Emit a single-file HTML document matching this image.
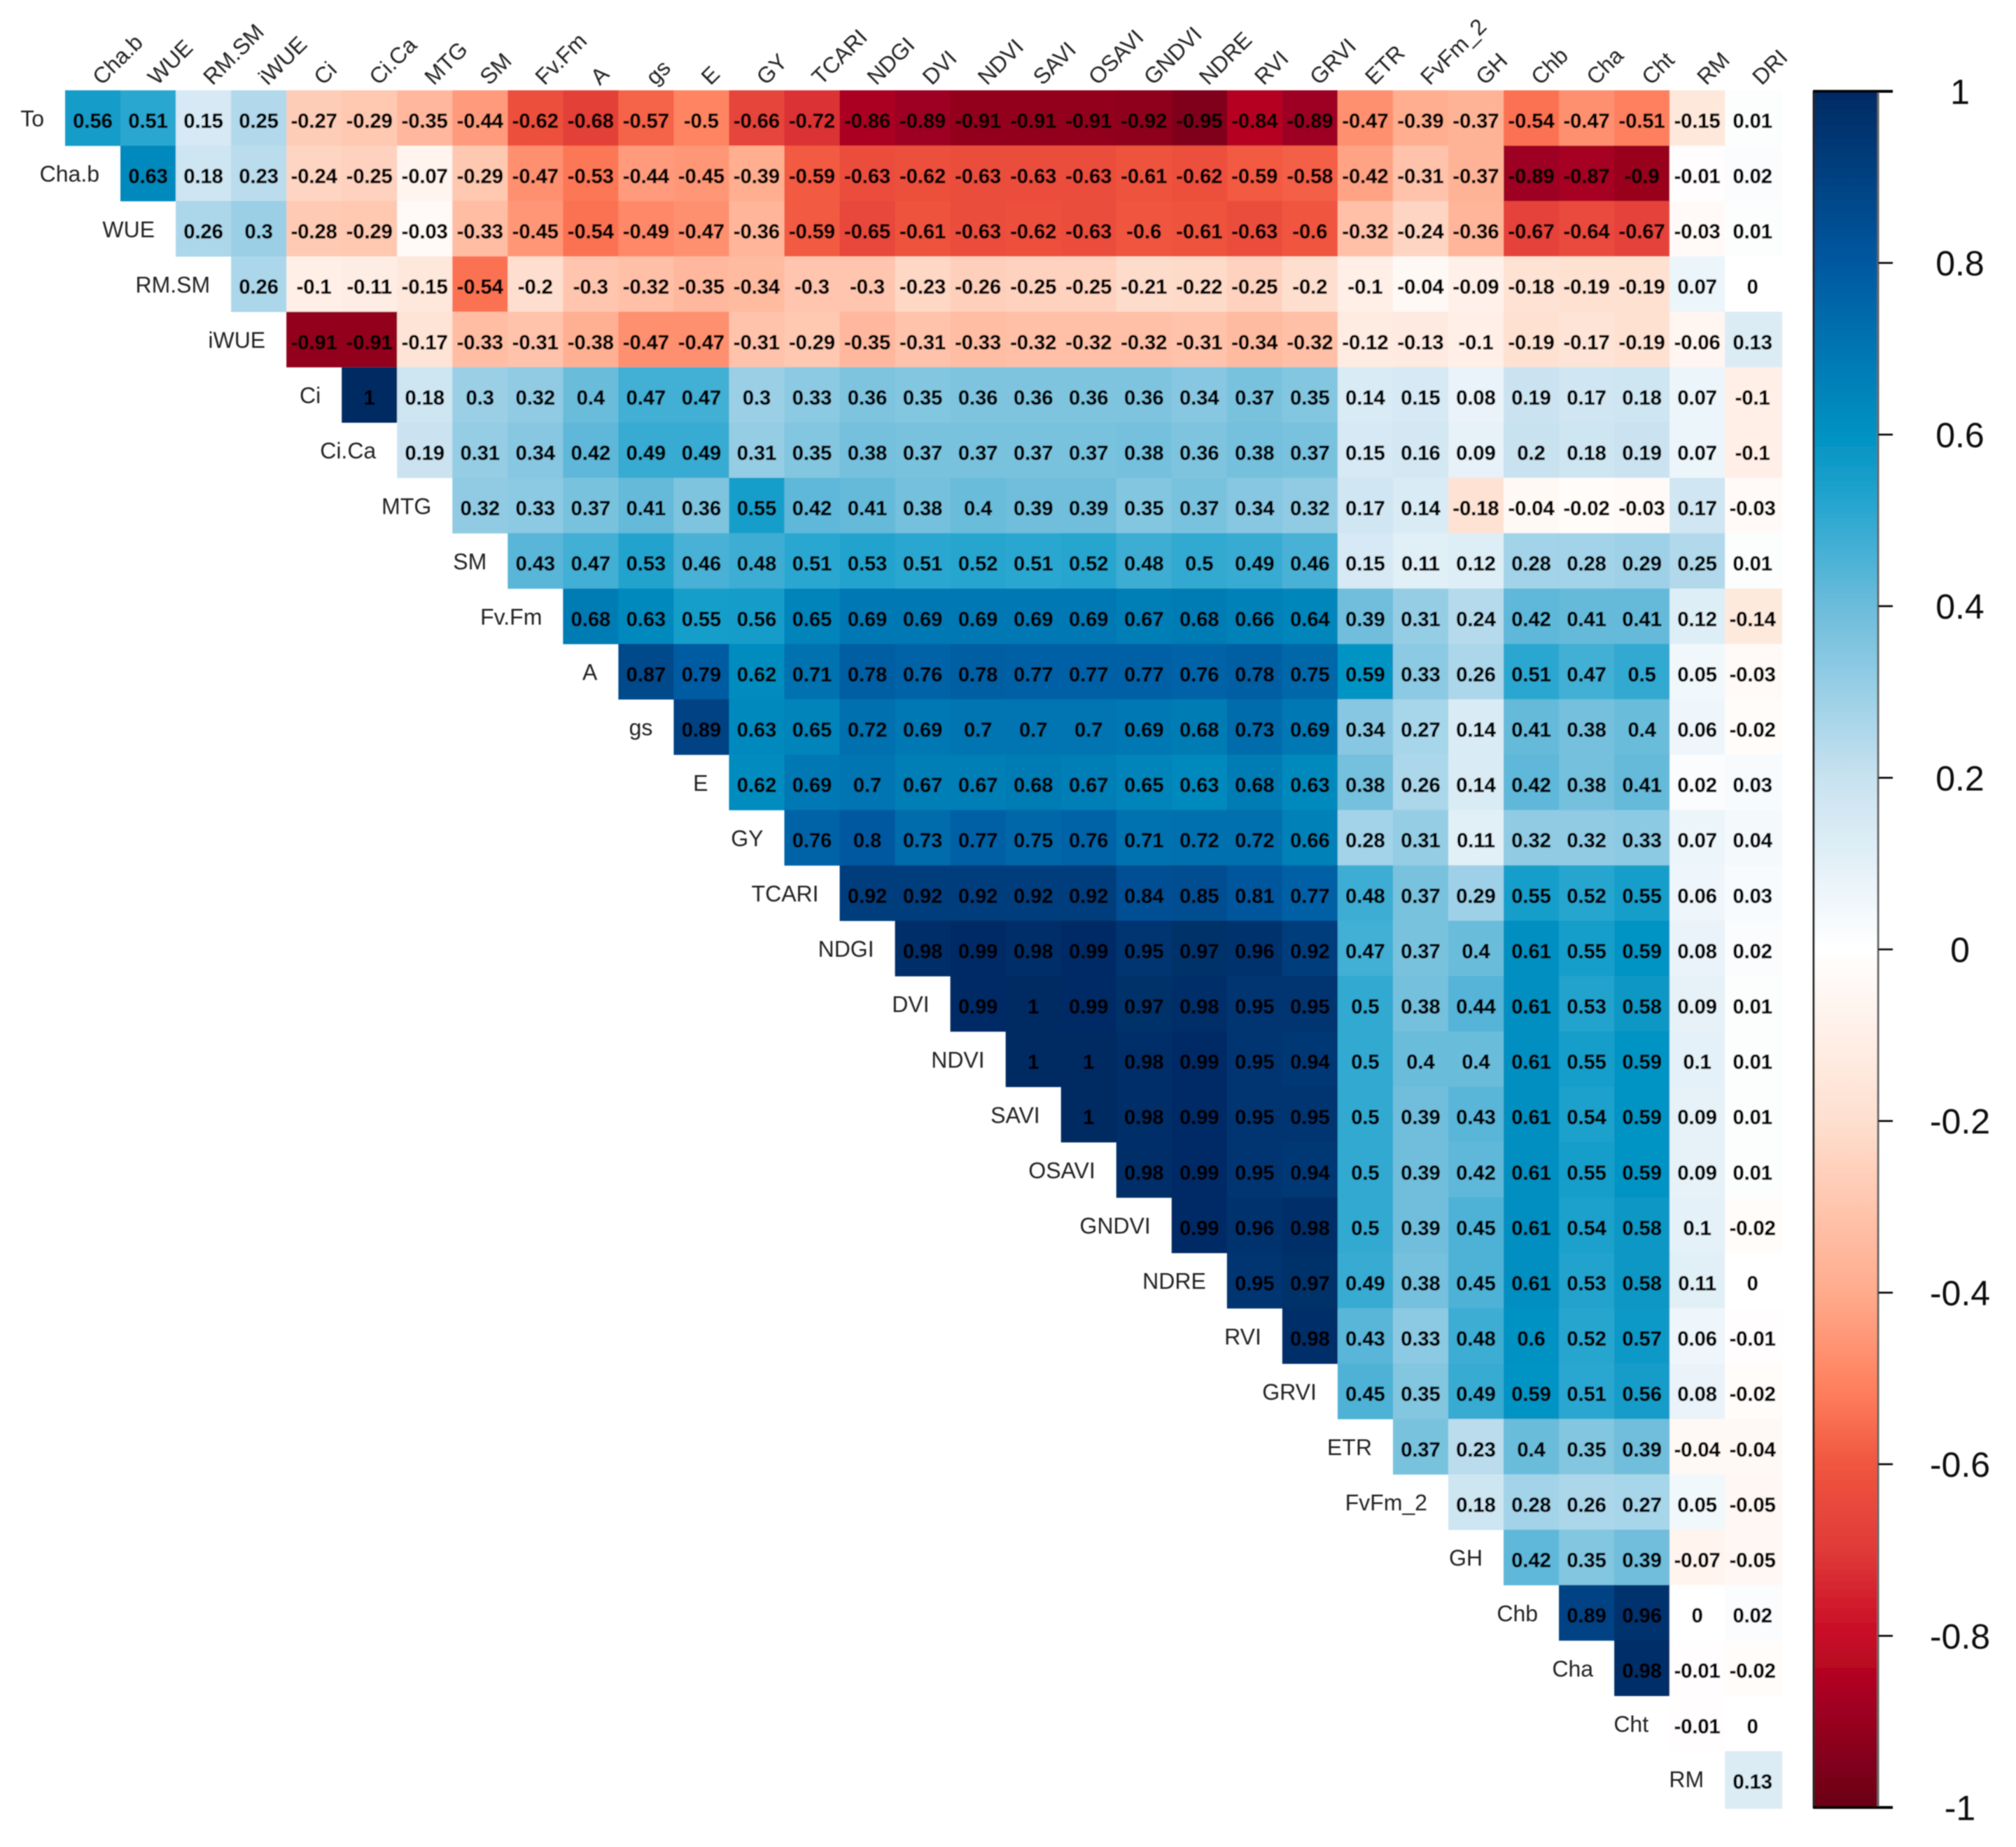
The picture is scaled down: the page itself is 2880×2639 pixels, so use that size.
<!DOCTYPE html>
<html lang="en">
<head>
<meta charset="utf-8">
<title>Correlation matrix heatmap</title>
<style>
  html, body { margin: 0; padding: 0; background: #ffffff; }
  body { width: 2880px; height: 2639px; overflow: hidden; }
  svg { display: block; }
  text { font-family: "Liberation Sans", Arial, sans-serif; fill: #000; }
  .val { font-size: 29px; font-weight: 700; text-anchor: middle; fill: #000; stroke: #000; stroke-width: 0.5px; }
  .rowl { font-size: 32px; text-anchor: end; fill: #222; }
  .coll { font-size: 32px; text-anchor: start; fill: #222; }
  .legl { font-size: 50px; text-anchor: middle; fill: #111; }
</style>
</head>
<body>
<svg id="chart" xmlns="http://www.w3.org/2000/svg" width="2880" height="2639" viewBox="0 0 2880 2639">
  <defs>
    <filter id="soft" x="0" y="0" width="100%" height="100%" filterUnits="userSpaceOnUse" primitiveUnits="userSpaceOnUse">
      <feGaussianBlur stdDeviation="0.8"/>
    </filter>
    <linearGradient id="legend-gradient" x1="0" y1="0" x2="0" y2="1"></linearGradient>
  </defs>
  <rect x="0" y="0" width="2880" height="2639" fill="#ffffff"/>
  <g id="plot" filter="url(#soft)">
    <g id="cells"></g>
    <g id="values"></g>
    <g id="row-labels"></g>
    <g id="col-labels"></g>
    <g id="legend"></g>
  </g>
</svg>
<script>
const rowNames = ["To","Cha.b","WUE","RM.SM","iWUE","Ci","Ci.Ca","MTG","SM","Fv.Fm","A","gs","E","GY","TCARI","NDGI","DVI","NDVI","SAVI","OSAVI","GNDVI","NDRE","RVI","GRVI","ETR","FvFm_2","GH","Chb","Cha","Cht","RM"];
const colNames = ["Cha.b","WUE","RM.SM","iWUE","Ci","Ci.Ca","MTG","SM","Fv.Fm","A","gs","E","GY","TCARI","NDGI","DVI","NDVI","SAVI","OSAVI","GNDVI","NDRE","RVI","GRVI","ETR","FvFm_2","GH","Chb","Cha","Cht","RM","DRI"];
const legendTicks = [1,0.8,0.6,0.4,0.2,0,-0.2,-0.4,-0.6,-0.8,-1];

const rowTo = [0.56,0.51,0.15,0.25,-0.27,-0.29,-0.35,-0.44,-0.62,-0.68,-0.57,-0.5,-0.66,-0.72,-0.86,-0.89,-0.91,-0.91,-0.91,-0.92,-0.95,-0.84,-0.89,-0.47,-0.39,-0.37,-0.54,-0.47,-0.51,-0.15,0.01];
const rowChab = [0.63,0.18,0.23,-0.24,-0.25,-0.07,-0.29,-0.47,-0.53,-0.44,-0.45,-0.39,-0.59,-0.63,-0.62,-0.63,-0.63,-0.63,-0.61,-0.62,-0.59,-0.58,-0.42,-0.31,-0.37,-0.89,-0.87,-0.9,-0.01,0.02];
const rowWUE = [0.26,0.3,-0.28,-0.29,-0.03,-0.33,-0.45,-0.54,-0.49,-0.47,-0.36,-0.59,-0.65,-0.61,-0.63,-0.62,-0.63,-0.6,-0.61,-0.63,-0.6,-0.32,-0.24,-0.36,-0.67,-0.64,-0.67,-0.03,0.01];
const rowRMSM = [0.26,-0.1,-0.11,-0.15,-0.54,-0.2,-0.3,-0.32,-0.35,-0.34,-0.3,-0.3,-0.23,-0.26,-0.25,-0.25,-0.21,-0.22,-0.25,-0.2,-0.1,-0.04,-0.09,-0.18,-0.19,-0.19,0.07,0];
const rowiWUE = [-0.91,-0.91,-0.17,-0.33,-0.31,-0.38,-0.47,-0.47,-0.31,-0.29,-0.35,-0.31,-0.33,-0.32,-0.32,-0.32,-0.31,-0.34,-0.32,-0.12,-0.13,-0.1,-0.19,-0.17,-0.19,-0.06,0.13];
const rowCi = [1,0.18,0.3,0.32,0.4,0.47,0.47,0.3,0.33,0.36,0.35,0.36,0.36,0.36,0.36,0.34,0.37,0.35,0.14,0.15,0.08,0.19,0.17,0.18,0.07,-0.1];
const rowCiCa = [0.19,0.31,0.34,0.42,0.49,0.49,0.31,0.35,0.38,0.37,0.37,0.37,0.37,0.38,0.36,0.38,0.37,0.15,0.16,0.09,0.2,0.18,0.19,0.07,-0.1];
const rowMTG = [0.32,0.33,0.37,0.41,0.36,0.55,0.42,0.41,0.38,0.4,0.39,0.39,0.35,0.37,0.34,0.32,0.17,0.14,-0.18,-0.04,-0.02,-0.03,0.17,-0.03];
const rowSM = [0.43,0.47,0.53,0.46,0.48,0.51,0.53,0.51,0.52,0.51,0.52,0.48,0.5,0.49,0.46,0.15,0.11,0.12,0.28,0.28,0.29,0.25,0.01];
const rowFvFm = [0.68,0.63,0.55,0.56,0.65,0.69,0.69,0.69,0.69,0.69,0.67,0.68,0.66,0.64,0.39,0.31,0.24,0.42,0.41,0.41,0.12,-0.14];
const rowA = [0.87,0.79,0.62,0.71,0.78,0.76,0.78,0.77,0.77,0.77,0.76,0.78,0.75,0.59,0.33,0.26,0.51,0.47,0.5,0.05,-0.03];
const rowgs = [0.89,0.63,0.65,0.72,0.69,0.7,0.7,0.7,0.69,0.68,0.73,0.69,0.34,0.27,0.14,0.41,0.38,0.4,0.06,-0.02];
const rowE = [0.62,0.69,0.7,0.67,0.67,0.68,0.67,0.65,0.63,0.68,0.63,0.38,0.26,0.14,0.42,0.38,0.41,0.02,0.03];
const rowGY = [0.76,0.8,0.73,0.77,0.75,0.76,0.71,0.72,0.72,0.66,0.28,0.31,0.11,0.32,0.32,0.33,0.07,0.04];
const rowTCARI = [0.92,0.92,0.92,0.92,0.92,0.84,0.85,0.81,0.77,0.48,0.37,0.29,0.55,0.52,0.55,0.06,0.03];
const rowNDGI = [0.98,0.99,0.98,0.99,0.95,0.97,0.96,0.92,0.47,0.37,0.4,0.61,0.55,0.59,0.08,0.02];
const rowDVI = [0.99,1,0.99,0.97,0.98,0.95,0.95,0.5,0.38,0.44,0.61,0.53,0.58,0.09,0.01];
const rowNDVI = [1,1,0.98,0.99,0.95,0.94,0.5,0.4,0.4,0.61,0.55,0.59,0.1,0.01];
const rowSAVI = [1,0.98,0.99,0.95,0.95,0.5,0.39,0.43,0.61,0.54,0.59,0.09,0.01];
const rowOSAVI = [0.98,0.99,0.95,0.94,0.5,0.39,0.42,0.61,0.55,0.59,0.09,0.01];
const rowGNDVI = [0.99,0.96,0.98,0.5,0.39,0.45,0.61,0.54,0.58,0.1,-0.02];
const rowNDRE = [0.95,0.97,0.49,0.38,0.45,0.61,0.53,0.58,0.11,0];
const rowRVI = [0.98,0.43,0.33,0.48,0.6,0.52,0.57,0.06,-0.01];
const rowGRVI = [0.45,0.35,0.49,0.59,0.51,0.56,0.08,-0.02];
const rowETR = [0.37,0.23,0.4,0.35,0.39,-0.04,-0.04];
const rowFvFm2 = [0.18,0.28,0.26,0.27,0.05,-0.05];
const rowGH = [0.42,0.35,0.39,-0.07,-0.05];
const rowChb = [0.89,0.96,0,0.02];
const rowCha = [0.98,-0.01,-0.02];
const rowCht = [-0.01,0];
const rowRM = [0.13];

const matrix = [rowTo,rowChab,rowWUE,rowRMSM,rowiWUE,rowCi,rowCiCa,rowMTG,rowSM,rowFvFm,rowA,rowgs,rowE,rowGY,rowTCARI,rowNDGI,rowDVI,rowNDVI,rowSAVI,rowOSAVI,rowGNDVI,rowNDRE,rowRVI,rowGRVI,rowETR,rowFvFm2,rowGH,rowChb,rowCha,rowCht,rowRM];

const rampValues = [-1,-0.9,-0.8,-0.7,-0.6,-0.52,-0.4,-0.2,0,0.2,0.4,0.52,0.6,0.8,1];
const rampColors = ["#680016","#98001f","#c80a26","#e03a38","#f0553f","#fe7c5a","#ffab8c","#fedfcf","#ffffff","#c8e2f0","#6bbcdb","#25a5cf","#0092c2","#0058a0","#002a62"];

const NS = "http://www.w3.org/2000/svg";
const gridLeft = 93, gridTop = 129, gridRight = 2543.2, gridBottom = 2581.1;
const lastColExtra = 2.5, lastRowExtra = 2.9;
const cellW = (gridRight - gridLeft) / colNames.length;
const cellH = (gridBottom - gridTop) / rowNames.length;
const legendLeft = 2590, legendRight = 2683, legendTop = 130.5, legendBottom = 2582.5;

function xCol(c) { return gridLeft + c * cellW; }
function yRow(r) { return gridTop + r * cellH; }
function yLegend(v) { return legendTop + (1 - v) / 2 * (legendBottom - legendTop); }

function hexToRgb(h) {
  return [parseInt(h.slice(1,3),16), parseInt(h.slice(3,5),16), parseInt(h.slice(5,7),16)];
}
function colorFor(v) {
  if (v <= rampValues[0]) return rampColors[0];
  for (let i = 1; i < rampValues.length; i++) {
    if (v <= rampValues[i]) {
      const t = (v - rampValues[i-1]) / (rampValues[i] - rampValues[i-1]);
      const a = hexToRgb(rampColors[i-1]), b = hexToRgb(rampColors[i]);
      return "rgb(" + a.map((x, k) => Math.round(x + (b[k] - x) * t)).join(",") + ")";
    }
  }
  return rampColors[rampColors.length - 1];
}
function svgEl(tag) { return document.createElementNS(NS, tag); }

const cellsG = document.getElementById("cells");
const valuesG = document.getElementById("values");
const rowG = document.getElementById("row-labels");
const colG = document.getElementById("col-labels");
const legendG = document.getElementById("legend");

matrix.forEach(function (rowVals, r) {
  rowVals.forEach(function (v, i) {
    const c = r + i;
    const rect = svgEl("rect");
    
    
    rect.setAttribute("x", xCol(c));
    rect.setAttribute("y", yRow(r));
    rect.setAttribute("width", cellW + 0.4 + (c === colNames.length - 1 ? lastColExtra : 0));
    rect.setAttribute("height", cellH + 0.4 + (r === rowNames.length - 1 ? lastRowExtra : 0));
    rect.setAttribute("fill", colorFor(v));
    cellsG.appendChild(rect);

    const t = svgEl("text");
    
    
    t.setAttribute("class", "val");
    t.setAttribute("x", xCol(c) + cellW / 2);
    t.setAttribute("y", yRow(r) + cellH / 2 + 13.8);
    t.textContent = String(v);
    valuesG.appendChild(t);
  });
});

rowNames.forEach(function (name, r) {
  const t = svgEl("text");
  
  
  t.setAttribute("class", "rowl");
  t.setAttribute("x", xCol(r) - 30);
  t.setAttribute("y", yRow(r) + cellH / 2 + 12);
  t.textContent = name;
  rowG.appendChild(t);
});

colNames.forEach(function (name, c) {
  const t = svgEl("text");
  const px = xCol(c) + cellW / 2 + 13;
  const py = 123;
  
  
  t.setAttribute("class", "coll");
  t.setAttribute("x", px);
  t.setAttribute("y", py);
  t.setAttribute("transform", "rotate(-45 " + px + " " + py + ")");
  t.textContent = name;
  colG.appendChild(t);
});

const grad = document.getElementById("legend-gradient");
rampValues.slice().reverse().forEach(function (v) {
  const s = svgEl("stop");
  s.setAttribute("offset", ((1 - v) / 2 * 100) + "%");
  s.setAttribute("stop-color", colorFor(v));
  grad.appendChild(s);
});

const legendBar = svgEl("rect");


legendBar.setAttribute("x", legendLeft);
legendBar.setAttribute("y", legendTop);
legendBar.setAttribute("width", legendRight - legendLeft);
legendBar.setAttribute("height", legendBottom - legendTop);
legendBar.setAttribute("fill", "url(#legend-gradient)");
legendG.appendChild(legendBar);

const frameLeft = svgEl("line");


frameLeft.setAttribute("x1", legendLeft + 1);
frameLeft.setAttribute("x2", legendLeft + 1);
frameLeft.setAttribute("y1", legendTop);
frameLeft.setAttribute("y2", legendBottom);
frameLeft.setAttribute("stroke", "#222");
frameLeft.setAttribute("stroke-width", "3");
legendG.appendChild(frameLeft);

const frameRight = svgEl("line");


frameRight.setAttribute("x1", legendRight);
frameRight.setAttribute("x2", legendRight);
frameRight.setAttribute("y1", legendTop);
frameRight.setAttribute("y2", legendBottom);
frameRight.setAttribute("stroke", "#666");
frameRight.setAttribute("stroke-width", "3");
legendG.appendChild(frameRight);

legendTicks.forEach(function (v) {
  const y = yLegend(v);
  const tick = svgEl("line");
  
  
  tick.setAttribute("x1", (v === 1 || v === -1) ? legendLeft : legendRight);
  tick.setAttribute("x2", 2704);
  tick.setAttribute("y1", y);
  tick.setAttribute("y2", y);
  tick.setAttribute("stroke", "#000");
  tick.setAttribute("stroke-width", (v === 1 || v === -1) ? "4" : "2.6");
  legendG.appendChild(tick);

  const t = svgEl("text");
  
  
  t.setAttribute("class", "legl");
  t.setAttribute("x", 2800);
  t.setAttribute("y", y + 18);
  t.textContent = String(v);
  legendG.appendChild(t);
});
</script>
</body>
</html>
